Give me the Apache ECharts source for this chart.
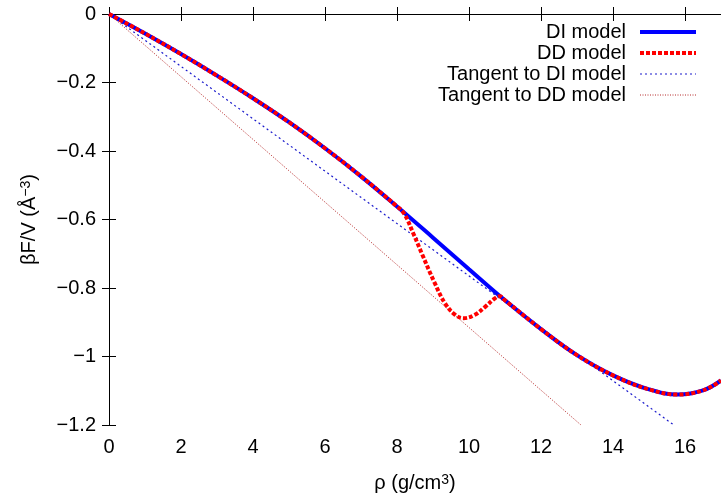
<!DOCTYPE html>
<html>
<head>
<meta charset="utf-8">
<script src="https://cdn.jsdelivr.net/npm/echarts@6/dist/echarts.min.js"></script>
<style>
  html, body { margin: 0; padding: 0; background: #fff; }
  #main { width: 721px; height: 498px; }
</style>
</head>
<body>
<div id="main"></div>
<script>
// density (g/cm3) and beta F / V values
var rhoDI = [0, 1, 2, 3, 4, 5, 6, 7, 8, 9, 10, 11, 12, 13, 14, 15, 15.8, 16.5, 17];
var fDI = [0, -0.057, -0.117, -0.180, -0.246, -0.316, -0.392, -0.474, -0.562, -0.653, -0.745, -0.836, -0.920, -0.996, -1.055, -1.096, -1.111, -1.099, -1.070];

var rhoDD = [0, 1, 2, 3, 4, 5, 6, 7, 8, 8.2, 8.45, 8.7, 9.05, 9.33, 9.6, 9.85, 10.15, 10.45, 10.7, 10.85, 11, 12, 13, 14, 15, 15.8, 16.5, 17];
var fDD = [0, -0.057, -0.117, -0.180, -0.246, -0.316, -0.392, -0.474, -0.562, -0.583, -0.640, -0.702, -0.786, -0.844, -0.877, -0.888, -0.879, -0.855, -0.832, -0.824, -0.836, -0.920, -0.996, -1.055, -1.096, -1.111, -1.099, -1.070];

// tangent lines from the origin
var rhoTanDI = [0, 15.69];
var fTanDI = [0, -1.2];
var rhoTanDD = [0, 13.11];
var fTanDD = [0, -1.2];

var xTicks = [0, 2, 4, 6, 8, 10, 12, 14, 16];

function pairs(xs, ys) {
    var out = [];
    for (var i = 0; i < xs.length; i++) {
        out.push([xs[i], ys[i]]);
    }
    return out;
}

var font = '"Liberation Sans", Arial, Helvetica, sans-serif';

function minusFmt(v) {
    if (Math.abs(v) < 1e-9) return '0';
    var s = String(Math.round(Math.abs(v) * 10) / 10);
    return (v < 0 ? '\u2212' : '') + s;
}

var styleDI = { color: '#0000ff', width: 4, type: 'solid' };
var styleDD = { color: '#ff0000', width: 4, type: [4, 2] };
var styleTanDI = { color: '#1a1acc', width: 1.2, type: [2, 3] };
var styleTanDD = { color: '#b52a2a', width: 1, type: [1, 1.5] };

var option = {
    animation: false,
    backgroundColor: '#fff',
    textStyle: { fontFamily: font },
    grid: { left: 109, top: 14, right: -3, bottom: 68 },
    legend: {
        orient: 'vertical',
        right: 18,
        top: 17,
        align: 'right',
        itemWidth: 56,
        itemHeight: 14,
        itemGap: 1,
        itemStyle: { opacity: 0 },
        textStyle: { fontSize: 20, color: '#000', fontFamily: font, lineHeight: 20, padding: [0, 9, 0, 0] },
        data: [
            { name: 'DI model', lineStyle: styleDI },
            { name: 'DD model', lineStyle: styleDD },
            { name: 'Tangent to DI model', lineStyle: styleTanDI },
            { name: 'Tangent to DD model', lineStyle: styleTanDD }
        ]
    },
    xAxis: [
        {
            type: 'value',
            min: 0,
            max: 17,
            interval: 2,
            name: '\u03c1 (g/cm{sup|3})',
            nameLocation: 'middle',
            nameGap: 48,
            nameTextStyle: {
                fontSize: 20, color: '#000', fontFamily: font,
                rich: { sup: { fontSize: 14, verticalAlign: 'top', color: '#000', fontFamily: font } }
            },
            axisLine: { show: true, lineStyle: { color: '#000', width: 1 } },
            axisTick: { show: true, inside: true, length: 7, lineStyle: { color: '#000' } },
            axisLabel: {
                fontSize: 20, color: '#000', margin: 12, fontFamily: font, showMaxLabel: false,
                formatter: function (v) { return xTicks.indexOf(v) >= 0 ? minusFmt(v) : ''; }
            },
            splitLine: { show: false }
        },
        {
            type: 'value',
            position: 'top',
            min: 0,
            max: 17,
            interval: 2,
            axisLine: { show: true, lineStyle: { color: '#000', width: 1 } },
            axisTick: { show: true, inside: true, length: 7, lineStyle: { color: '#000' } },
            axisLabel: { show: false },
            splitLine: { show: false }
        }
    ],
    yAxis: [
        {
            type: 'value',
            min: -1.2,
            max: 0,
            interval: 0.2,
            name: '\u03b2F/V (\u00c5{sup|\u22123})',
            nameLocation: 'middle',
            nameGap: 70,
            nameTextStyle: {
                fontSize: 20, color: '#000', fontFamily: font,
                rich: { sup: { fontSize: 14, verticalAlign: 'top', color: '#000', fontFamily: font } }
            },
            axisLine: { show: true, lineStyle: { color: '#000', width: 1 } },
            axisTick: { show: true, inside: true, length: 7, lineStyle: { color: '#000' } },
            axisLabel: { fontSize: 20, color: '#000', margin: 13, fontFamily: font, formatter: minusFmt },
            splitLine: { show: false }
        },
        {
            type: 'value',
            position: 'right',
            min: -1.2,
            max: 0,
            interval: 0.2,
            axisLine: { show: true, lineStyle: { color: '#000', width: 1 } },
            axisTick: { show: true, inside: true, length: 7, lineStyle: { color: '#000' } },
            axisLabel: { show: false },
            splitLine: { show: false }
        }
    ],
    series: [
        {
            name: 'Tangent to DI model',
            type: 'line',
            data: pairs(rhoTanDI, fTanDI),
            symbol: 'none',
            color: styleTanDI.color,
            lineStyle: styleTanDI,
            z: 1
        },
        {
            name: 'Tangent to DD model',
            type: 'line',
            data: pairs(rhoTanDD, fTanDD),
            symbol: 'none',
            color: styleTanDD.color,
            lineStyle: styleTanDD,
            z: 1
        },
        {
            name: 'DI model',
            type: 'line',
            data: pairs(rhoDI, fDI),
            symbol: 'none',
            smooth: 0.4,
            color: styleDI.color,
            lineStyle: styleDI,
            z: 2
        },
        {
            name: 'DD model',
            type: 'line',
            data: pairs(rhoDD, fDD),
            symbol: 'none',
            smooth: 0.4,
            color: styleDD.color,
            lineStyle: styleDD,
            z: 3
        }
    ]
};

var chart = echarts.init(document.getElementById('main'));
chart.setOption(option);
</script>
</body>
</html>
